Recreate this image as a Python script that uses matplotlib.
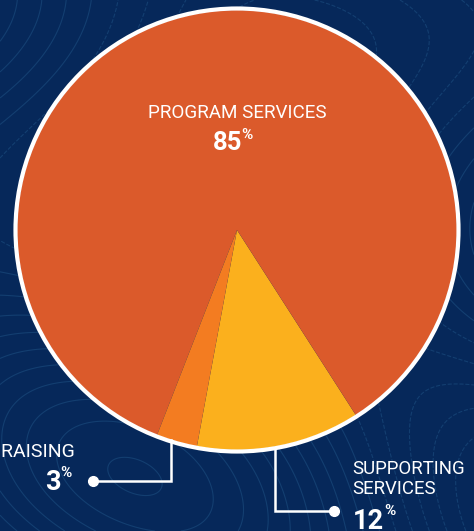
import numpy as np
import matplotlib
matplotlib.use("Agg")
import matplotlib.pyplot as plt
from matplotlib.patches import Circle

# ---- data ----
categories = ["SUPPORTING\nSERVICES", "PROGRAM SERVICES", "FUNDRAISING"]
values = [12, 85, 3]
colors = ["#fbb01d", "#db5a2b", "#f37c21"]
pct_labels = ["12", "85", "3"]

W, H = 474, 531
BG = "#06285a"
FONT = "Roboto"

fig = plt.figure(figsize=(W / 100, H / 100), dpi=100, facecolor=BG)
ax = fig.add_axes([0, 0, 1, 1])
ax.set_facecolor(BG)

def Y(y_img):
    return H - y_img

# decorative faint topographic background
gx = np.linspace(0, W, 400)
gy = np.linspace(0, H, 450)
GX, GY = np.meshgrid(gx, gy)
field = (np.sin(GX / 120.0 + GY / 160.0) + 0.8 * np.cos(GY / 95.0 - GX / 210.0)
         + 0.5 * np.sin((GX + 2 * GY) / 140.0))
ax.contour(GX, GY, field, levels=16, colors="#235a8c", linewidths=0.8, alpha=0.45, zorder=0)

cx, cy, r = 237, Y(230), 220
wedges, _ = ax.pie(values, colors=colors, startangle=-100.5, counterclock=True,
                   center=(cx, cy), radius=r, wedgeprops=dict(linewidth=0), frame=True)
for w in wedges:
    w.set_zorder(2)
ax.add_patch(Circle((cx, cy), r + 1.5, fill=False, ec="white", lw=3.0, zorder=3))

ax.set_xlim(0, W)
ax.set_ylim(0, H)
ax.set_aspect("equal")
ax.axis("off")

white = "white"
# program services
ax.text(237, Y(113), categories[1], ha="center", va="center", color=white,
        fontsize=13.6, family=FONT, zorder=5)
ax.text(242, Y(150), pct_labels[1], ha="right", va="baseline", color=white,
        fontsize=18.5, fontweight="bold", family=FONT, zorder=5)
ax.text(241, Y(128), "%", ha="left", va="top", color=white,
        fontsize=11, fontweight="bold", family=FONT, zorder=5)

# fundraising
ax.plot([171.5, 171.5, 93], [Y(440), Y(481), Y(481)], color=white, lw=1.8,
        solid_joinstyle="miter", zorder=4)
ax.plot([93], [Y(481)], "o", color=white, ms=7, zorder=4)
ax.text(75, Y(452), categories[2], ha="right", va="center", color=white,
        fontsize=14, family=FONT, zorder=5)
ax.text(61, Y(490), pct_labels[2], ha="right", va="baseline", color=white,
        fontsize=19.5, fontweight="bold", family=FONT, zorder=5)
ax.text(60, Y(466), "%", ha="left", va="top", color=white,
        fontsize=11, fontweight="bold", family=FONT, zorder=5)

# supporting services
ax.plot([275, 275, 334], [Y(450), Y(511), Y(511)], color=white, lw=1.8,
        solid_joinstyle="miter", zorder=4)
ax.plot([334], [Y(511)], "o", color=white, ms=7, zorder=4)
ax.text(352, Y(479), categories[0], ha="left", va="center", color=white,
        fontsize=13.4, family=FONT, linespacing=1.2, zorder=5)
ax.text(353, Y(529), pct_labels[0], ha="left", va="baseline", color=white,
        fontsize=19.5, fontweight="bold", family=FONT, zorder=5)
ax.text(384, Y(504), "%", ha="left", va="top", color=white,
        fontsize=11, fontweight="bold", family=FONT, zorder=5)

fig.savefig("out.png", dpi=100, facecolor=BG)
